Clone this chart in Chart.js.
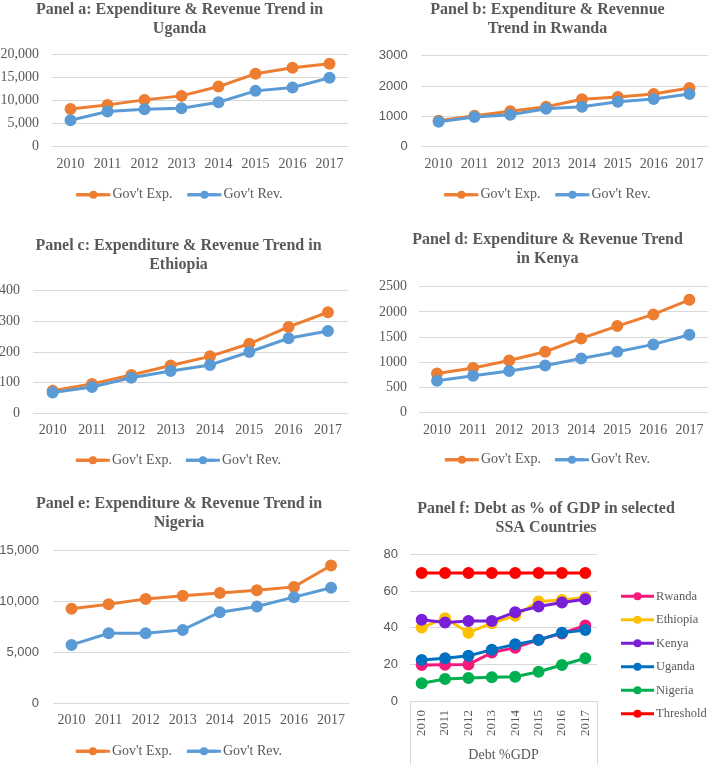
<!DOCTYPE html>
<html>
<head>
<meta charset="utf-8">
<script src="https://cdn.jsdelivr.net/npm/chart.js@4.4.0/dist/chart.umd.min.js"></script>
<style>
  html, body { margin: 0; padding: 0; background: #fff; overflow: hidden; }
  .panel { position: absolute; }
</style>
</head>
<body>
<div class="panel" style="left:0px;top:0px;width:359px;height:225px"><canvas id="chartA"></canvas></div>
<div class="panel" style="left:354px;top:0px;width:387px;height:225px"><canvas id="chartB"></canvas></div>
<div class="panel" style="left:0px;top:236px;width:357px;height:250px"><canvas id="chartC"></canvas></div>
<div class="panel" style="left:354px;top:230px;width:387px;height:256px"><canvas id="chartD"></canvas></div>
<div class="panel" style="left:0px;top:494px;width:358px;height:276px"><canvas id="chartE"></canvas></div>
<div class="panel" style="left:364px;top:499px;width:364px;height:269px"><canvas id="chartF"></canvas></div>
<script>
// Data block
const years = ['2010', '2011', '2012', '2013', '2014', '2015', '2016', '2017'];

const ugandaExp = [8220, 9100, 10190, 11060, 13090, 15860, 17160, 18040];
const ugandaRev = [5760, 7640, 8150, 8370, 9680, 12150, 12870, 14980];
const ugandaTicks = ['0', '5,000', '10,000', '15,000', '20,000'];

const rwandaExp = [857, 1022, 1167, 1319, 1563, 1638, 1737, 1934];
const rwandaRev = [824, 979, 1055, 1253, 1319, 1484, 1572, 1737];
const rwandaTicks = ['0', '1000', '2000', '3000'];

const ethiopiaExp = [74, 96, 125, 156, 186, 227, 282, 330];
const ethiopiaRev = [68, 86, 116, 138, 158, 200, 245, 269];
const ethiopiaTicks = ['0', '100', '200', '300', '400'];

const kenyaExp = [780, 886, 1038, 1210, 1475, 1720, 1951, 2242];
const kenyaRev = [635, 734, 827, 939, 1078, 1210, 1356, 1548];
const kenyaTicks = ['0', '500', '1000', '1500', '2000', '2500'];

const nigeriaExp = [9290, 9750, 10270, 10570, 10860, 11130, 11450, 13560];
const nigeriaRev = [5740, 6890, 6890, 7220, 8960, 9520, 10440, 11360];
const nigeriaTicks = ['0', '5,000', '10,000', '15,000'];

// Debt as % of GDP
const debtRwanda = [19.7, 19.8, 20, 26.5, 29.2, 33.5, 37, 41.3];
const debtEthiopia = [40.2, 45.3, 37.4, 42.6, 46.6, 54.4, 55.3, 56.6];
const debtKenya = [44.4, 42.9, 43.8, 43.8, 48.6, 51.7, 53.9, 55.7];
const debtUganda = [22.5, 23.4, 24.7, 28, 31, 33.4, 37.4, 38.9];
const debtNigeria = [9.7, 12, 12.6, 13, 13.3, 16, 19.7, 23.4];
const debtThreshold = [70, 70, 70, 70, 70, 70, 70, 70];
const debtTicks = ['0', '10', '20', '30', '40', '50', '60', '70', '80'];

// Global look
Chart.defaults.font.family = '"Liberation Serif", "Times New Roman", serif';
Chart.defaults.color = '#595959';
Chart.defaults.animation = false;

const expColor = '#ED7D31';
const revColor = '#5B9BD5';
const gridColor = '#D9D9D9';
const sansFont = {family: '"Liberation Sans", Arial, sans-serif', size: 13};
const serifFont = {size: 14};
const titleFont = {size: 16, weight: 'bold', lineHeight: 1.15};

// Legend marker plugin: longer line + dot, Excel style
const legendMarkers = {
    id: 'legendMarkers',
    afterDraw(chart) {
        const legend = chart.legend;
        if (!legend || !legend.options.display) return;
        const ctx = chart.ctx;
        const boxWidth = legend.options.labels.pointStyleWidth;
        legend.legendItems.forEach((item, i) => {
            const hit = legend.legendHitBoxes[i];
            const y = hit.top + hit.height / 2;
            const len = boxWidth + 5;
            ctx.save();
            ctx.strokeStyle = item.strokeStyle;
            ctx.fillStyle = item.strokeStyle;
            ctx.lineWidth = 3;
            ctx.beginPath();
            ctx.moveTo(hit.left, y);
            ctx.lineTo(hit.left + len, y);
            ctx.stroke();
            ctx.beginPath();
            ctx.arc(hit.left + len / 2, y, 4, 0, Math.PI * 2);
            ctx.fill();
            ctx.restore();
        });
    }
};

// Shared line style
function lineSet(label, data, color, order) {
    return {
        label: label,
        data: data,
        borderColor: color,
        backgroundColor: color,
        pointBackgroundColor: color,
        pointBorderColor: color,
        borderWidth: 3,
        pointRadius: 4.5,
        pointHoverRadius: 4.5,
        tension: 0,
        order: order  // later series drawn on top, like Excel
    };
}

// Empty right-hand axis: keeps the plot narrower than the title/legend box
function spacerAxis(width) {
    return {
        type: 'linear',
        position: 'right',
        grid: {display: false, drawTicks: false},
        border: {display: false},
        ticks: {display: false},
        afterFit: (scale) => { scale.width = width; }
    };
}

// Expenditure & revenue panel
function trendChart(id, o) {
    return new Chart(document.getElementById(id), {
        type: 'line',
        data: {
            labels: years,
            datasets: [
                lineSet("Gov't Exp.", o.exp, expColor, 1),
                lineSet("Gov't Rev.", o.rev, revColor, 0)
            ]
        },
        options: {
            maintainAspectRatio: false,
            layout: {padding: {left: 0, right: 0, top: 0, bottom: o.padBottom}},
            plugins: {
                title: {
                    display: true,
                    text: o.title,
                    color: '#595959',
                    font: titleFont,
                    padding: {top: 1, bottom: o.titleGap}
                },
                legend: {
                    position: 'bottom',
                    onClick: null,
                    labels: {
                        usePointStyle: true,
                        pointStyle: 'line',
                        pointStyleWidth: 29,
                        padding: o.legendPad,
                        font: serifFont,
                        color: '#595959',
                        sort: (a, b) => a.datasetIndex - b.datasetIndex
                    }
                },
                tooltip: {enabled: false}
            },
            scales: {
                x: {
                    offset: true,
                    grid: {display: false, drawTicks: false},
                    border: {display: false},
                    ticks: {padding: 9, font: serifFont, autoSkip: false, maxRotation: 0},
                    afterFit: (scale) => { scale.height = 26; }
                },
                y: {
                    min: 0,
                    max: o.max,
                    ticks: {
                        stepSize: o.step,
                        padding: o.tickPad,
                        font: o.tickFont,
                        callback: (v, i) => o.ticks[i]
                    },
                    grid: {color: gridColor, drawTicks: false},
                    border: {display: false},
                    afterFit: (scale) => { scale.width = o.axisWidth; }
                },
                spacer: spacerAxis(o.spacer)
            }
        },
        plugins: [legendMarkers]
    });
}

trendChart('chartA', {
    title: ['Panel a: Expenditure & Revenue Trend in', 'Uganda'],
    exp: ugandaExp, rev: ugandaRev, ticks: ugandaTicks, max: 20000, step: 5000,
    tickFont: serifFont, axisWidth: 52, tickPad: 13, spacer: 11,
    padBottom: 13.3, titleGap: 17, legendPad: 15
});
trendChart('chartB', {
    title: ['Panel b: Expenditure & Revennue', 'Trend in Rwanda'],
    exp: rwandaExp, rev: rwandaRev, ticks: rwandaTicks, max: 3000, step: 1000,
    tickFont: sansFont, axisWidth: 66.7, tickPad: 13, spacer: 33.6,
    padBottom: 13.3, titleGap: 18, legendPad: 15
});
trendChart('chartC', {
    title: ['Panel c: Expenditure & Revenue Trend in', 'Ethiopia'],
    exp: ethiopiaExp, rev: ethiopiaRev, ticks: ethiopiaTicks, max: 400, step: 100,
    tickFont: serifFont, axisWidth: 33, tickPad: 13, spacer: 9.4,
    padBottom: 8.7, titleGap: 17, legendPad: 14
});
trendChart('chartD', {
    title: ['Panel d: Expenditure & Revenue Trend', 'in Kenya'],
    exp: kenyaExp, rev: kenyaRev, ticks: kenyaTicks, max: 2500, step: 500,
    tickFont: serifFont, axisWidth: 65, tickPad: 12, spacer: 33.6,
    padBottom: 9.3, titleGap: 19, legendPad: 14
});
trendChart('chartE', {
    title: ['Panel e: Expenditure & Revenue Trend in', 'Nigeria'],
    exp: nigeriaExp, rev: nigeriaRev, ticks: nigeriaTicks, max: 15000, step: 5000,
    tickFont: sansFont, axisWidth: 53, tickPad: 14, spacer: 8.4,
    padBottom: 1.7, titleGap: 19, legendPad: 15
});

// Side legend plugin for panel f (Excel puts it beside the plot)
const sideLegend = {
    id: 'sideLegend',
    afterDraw(chart, args, opts) {
        const {ctx, chartArea} = chart;
        ctx.save();
        ctx.font = '12.5px "Liberation Serif", "Times New Roman", serif';
        ctx.textBaseline = 'middle';
        ctx.textAlign = 'left';
        chart.data.datasets.forEach((ds, i) => {
            const x = chartArea.right + opts.offsetX;
            const y = chartArea.top + opts.offsetY + i * opts.rowGap;
            ctx.strokeStyle = ds.borderColor;
            ctx.fillStyle = ds.borderColor;
            ctx.lineWidth = 3;
            ctx.beginPath();
            ctx.moveTo(x, y);
            ctx.lineTo(x + opts.lineLength, y);
            ctx.stroke();
            ctx.beginPath();
            ctx.arc(x + opts.lineLength / 2, y, 4, 0, Math.PI * 2);
            ctx.fill();
            ctx.fillStyle = '#595959';
            ctx.fillText(ds.label, x + opts.lineLength + 2, y);
        });
        ctx.restore();
    }
};

// Category box plugin: side lines of the category label box under panel f
const categoryBox = {
    id: 'categoryBox',
    afterDraw(chart) {
        const {ctx, chartArea} = chart;
        ctx.save();
        ctx.strokeStyle = gridColor;
        ctx.lineWidth = 1;
        ctx.beginPath();
        [chartArea.left, chartArea.right].forEach((x) => {
            const px = Math.round(x) + 0.5;
            ctx.moveTo(px, chartArea.bottom);
            ctx.lineTo(px, chart.height);
        });
        ctx.stroke();
        ctx.restore();
    }
};

// Panel f: debt chart
new Chart(document.getElementById('chartF'), {
    type: 'line',
    data: {
        labels: years,
        datasets: [
            lineSet('Rwanda', debtRwanda, '#F7197A', 5),
            lineSet('Ethiopia', debtEthiopia, '#FFC000', 4),
            lineSet('Kenya', debtKenya, '#7A1FD8', 3),
            lineSet('Uganda', debtUganda, '#0070C0', 2),
            lineSet('Nigeria', debtNigeria, '#00B050', 1),
            lineSet('Threshold', debtThreshold, '#FF0000', 0)
        ]
    },
    options: {
        maintainAspectRatio: false,
        layout: {padding: 0},
        plugins: {
            title: {
                display: true,
                text: ['Panel f: Debt as % of GDP in selected', 'SSA Countries'],
                color: '#595959',
                font: titleFont,
                padding: {top: 1, bottom: 18}
            },
            legend: {display: false},
            sideLegend: {offsetX: 24, offsetY: 41.5, rowGap: 23.5, lineLength: 33},
            tooltip: {enabled: false}
        },
        scales: {
            x: {
                offset: true,
                grid: {display: false, drawTicks: false},
                border: {display: false},
                ticks: {padding: 9, font: {size: 13}, autoSkip: false, minRotation: 90, maxRotation: 90},
                title: {display: true, text: 'Debt %GDP', font: serifFont, padding: {top: 12, bottom: 4}},
                afterFit: (scale) => { scale.height = 67; }
            },
            y: {
                min: 0,
                max: 80,
                ticks: {stepSize: 10, padding: 12, font: sansFont, callback: (v, i) => debtTicks[i]},
                grid: {color: gridColor, drawTicks: false},
                border: {display: false},
                afterFit: (scale) => { scale.width = 46; }
            },
            // empty space on the right, holds the side legend
            spacer: spacerAxis(131)
        }
    },
    plugins: [sideLegend, categoryBox]
});
</script>
</body>
</html>
